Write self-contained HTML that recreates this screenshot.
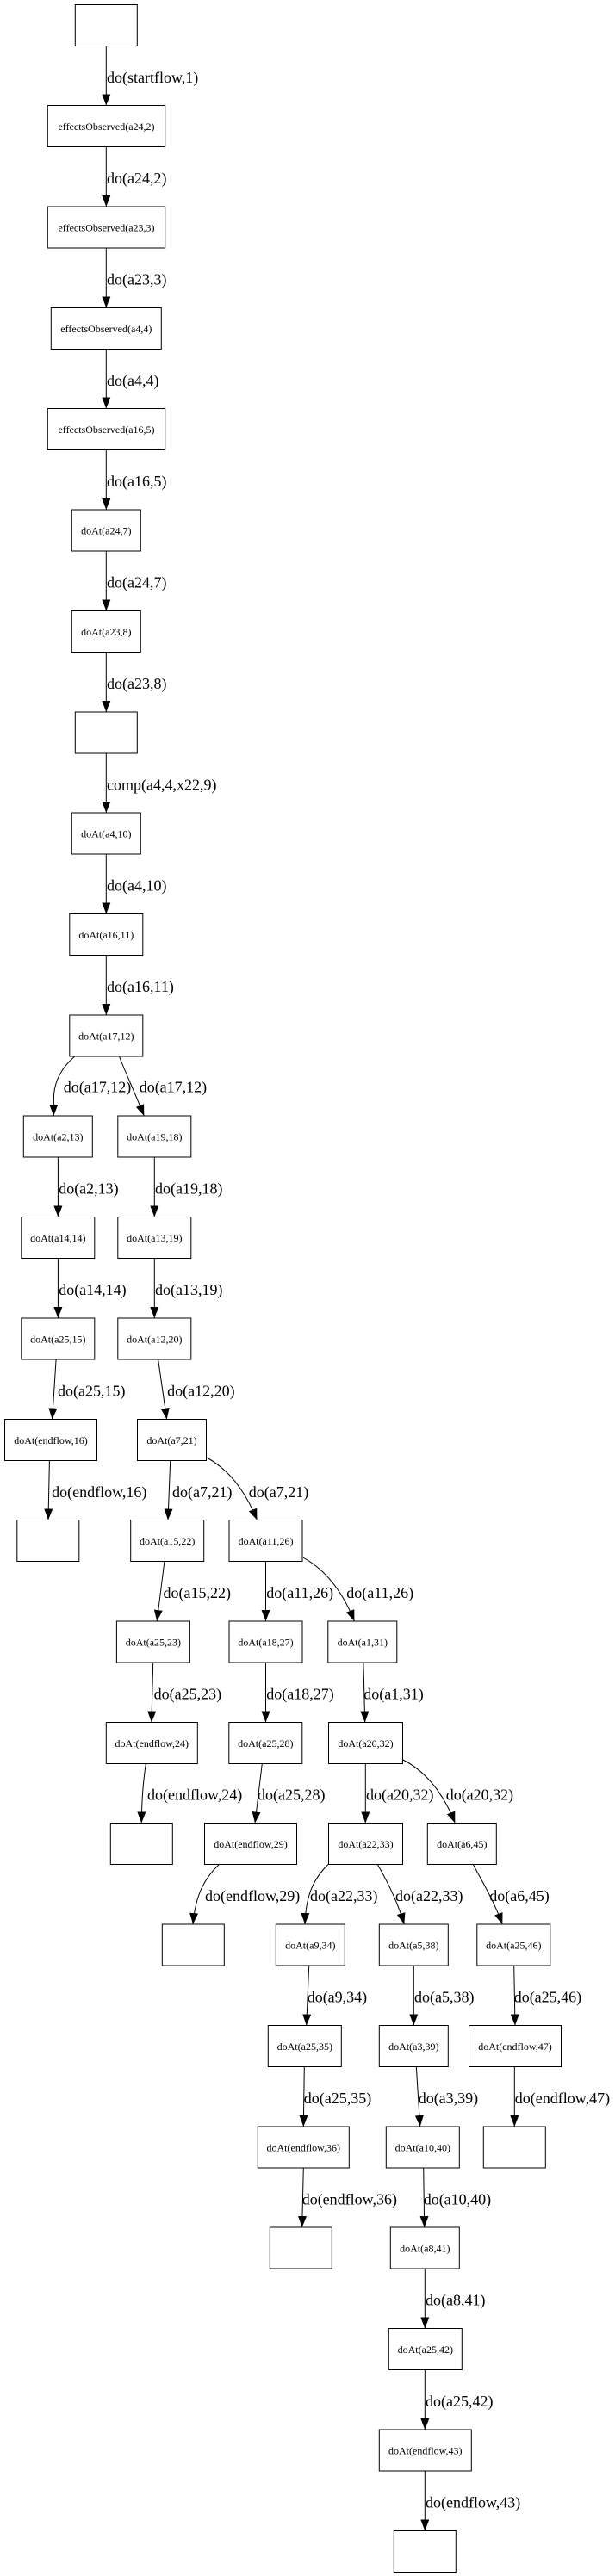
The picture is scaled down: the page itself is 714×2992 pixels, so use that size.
<!DOCTYPE html>
<html><head><meta charset="utf-8"><style>
html,body{margin:0;padding:0;background:#fff;}
svg{display:block;}
.n{fill:#fff;stroke:#000;stroke-width:1;}
.e{fill:none;stroke:#000;stroke-width:1;}
.t{font-family:"Liberation Serif","DejaVu Serif",serif;font-size:12px;text-anchor:middle;fill:#000;}
.l{font-family:"Liberation Serif","DejaVu Serif",serif;font-size:18px;fill:#000;}
</style></head><body>
<svg xmlns="http://www.w3.org/2000/svg" width="714" height="2992" viewBox="0 0 714 2992">
<defs><marker id="ah" markerUnits="userSpaceOnUse" viewBox="0 0 13 10" markerWidth="13" markerHeight="10" refX="13" refY="5" orient="auto"><path d="M0,0L13,5L0,10z" fill="#000"/></marker></defs>
<rect width="714" height="2992" fill="#fff"/>
<!-- nodes -->
<g>
<rect class="n" x="87.3" y="5.5" width="72" height="48"/>
<rect class="n" x="55.3" y="122.5" width="136.4" height="48"/><text class="t" x="123.5" y="151">effectsObserved(a24,2)</text>
<rect class="n" x="55.3" y="240" width="136.4" height="48"/><text class="t" x="123.5" y="268.5">effectsObserved(a23,3)</text>
<rect class="n" x="59.3" y="357.5" width="128" height="48"/><text class="t" x="123.3" y="386">effectsObserved(a4,4)</text>
<rect class="n" x="55.3" y="474.5" width="136.4" height="48"/><text class="t" x="123.5" y="503">effectsObserved(a16,5)</text>
<rect class="n" x="83.3" y="592" width="80" height="48"/><text class="t" x="123.3" y="620.5">doAt(a24,7)</text>
<rect class="n" x="83.3" y="709.5" width="80" height="48"/><text class="t" x="123.3" y="738">doAt(a23,8)</text>
<rect class="n" x="87.3" y="827" width="72" height="48"/>
<rect class="n" x="83.3" y="944" width="80" height="48"/><text class="t" x="123.3" y="972.5">doAt(a4,10)</text>
<rect class="n" x="80.8" y="1061.5" width="85" height="48"/><text class="t" x="123.3" y="1090">doAt(a16,11)</text>
<rect class="n" x="80.8" y="1179" width="85" height="48"/><text class="t" x="123.3" y="1207.5">doAt(a17,12)</text>

<rect class="n" x="27.3" y="1296" width="80" height="48"/><text class="t" x="67.3" y="1324.5">doAt(a2,13)</text>
<rect class="n" x="136.8" y="1296" width="85" height="48"/><text class="t" x="179.3" y="1324.5">doAt(a19,18)</text>

<rect class="n" x="24.8" y="1413.5" width="85" height="48"/><text class="t" x="67.3" y="1442">doAt(a14,14)</text>
<rect class="n" x="136.8" y="1413.5" width="85" height="48"/><text class="t" x="179.3" y="1442">doAt(a13,19)</text>

<rect class="n" x="24.8" y="1531" width="85" height="48"/><text class="t" x="67.3" y="1559.5">doAt(a25,15)</text>
<rect class="n" x="136.8" y="1531" width="85" height="48"/><text class="t" x="179.3" y="1559.5">doAt(a12,20)</text>

<rect class="n" x="5.5" y="1648.5" width="107" height="48"/><text class="t" x="59" y="1677">doAt(endflow,16)</text>
<rect class="n" x="159.5" y="1648.5" width="80" height="48"/><text class="t" x="199.5" y="1677">doAt(a7,21)</text>

<rect class="n" x="19.8" y="1765.5" width="72" height="48"/>
<rect class="n" x="151.7" y="1765.5" width="85" height="48"/><text class="t" x="194.2" y="1794">doAt(a15,22)</text>
<rect class="n" x="266" y="1765.5" width="85" height="48"/><text class="t" x="308.5" y="1794">doAt(a11,26)</text>

<rect class="n" x="135.4" y="1883" width="85" height="48"/><text class="t" x="177.9" y="1911.5">doAt(a25,23)</text>
<rect class="n" x="266" y="1883" width="85" height="48"/><text class="t" x="308.5" y="1911.5">doAt(a18,27)</text>
<rect class="n" x="380.8" y="1883" width="80" height="48"/><text class="t" x="420.8" y="1911.5">doAt(a1,31)</text>

<rect class="n" x="123.3" y="2000.5" width="106" height="48"/><text class="t" x="176.3" y="2029">doAt(endflow,24)</text>
<rect class="n" x="265.8" y="2000.5" width="85" height="48"/><text class="t" x="308.3" y="2029">doAt(a25,28)</text>
<rect class="n" x="381.5" y="2000.5" width="86" height="48"/><text class="t" x="424.5" y="2029">doAt(a20,32)</text>

<rect class="n" x="128.3" y="2117.5" width="72" height="48"/>
<rect class="n" x="237.5" y="2117.5" width="107" height="48"/><text class="t" x="291" y="2146">doAt(endflow,29)</text>
<rect class="n" x="381.5" y="2117.5" width="86" height="48"/><text class="t" x="424.5" y="2146">doAt(a22,33)</text>
<rect class="n" x="496.3" y="2117.5" width="80" height="48"/><text class="t" x="536.3" y="2146">doAt(a6,45)</text>

<rect class="n" x="188.3" y="2235" width="72" height="48"/>
<rect class="n" x="320.3" y="2235" width="80" height="48"/><text class="t" x="360.3" y="2263.5">doAt(a9,34)</text>
<rect class="n" x="440.3" y="2235" width="80" height="48"/><text class="t" x="480.3" y="2263.5">doAt(a5,38)</text>
<rect class="n" x="553.8" y="2235" width="85" height="48"/><text class="t" x="596.3" y="2263.5">doAt(a25,46)</text>

<rect class="n" x="311.3" y="2352.5" width="85" height="48"/><text class="t" x="353.8" y="2381">doAt(a25,35)</text>
<rect class="n" x="440.3" y="2352.5" width="80" height="48"/><text class="t" x="480.3" y="2381">doAt(a3,39)</text>
<rect class="n" x="544.5" y="2352.5" width="107" height="48"/><text class="t" x="598" y="2381">doAt(endflow,47)</text>

<rect class="n" x="299.3" y="2470" width="106" height="48"/><text class="t" x="352.3" y="2498.5">doAt(endflow,36)</text>
<rect class="n" x="448.3" y="2470" width="85" height="48"/><text class="t" x="490.8" y="2498.5">doAt(a10,40)</text>
<rect class="n" x="561.3" y="2470" width="72" height="48"/>

<rect class="n" x="313.3" y="2587" width="72" height="48"/>
<rect class="n" x="453.3" y="2587" width="80" height="48"/><text class="t" x="493.3" y="2615.5">doAt(a8,41)</text>

<rect class="n" x="451.3" y="2704.5" width="85" height="48"/><text class="t" x="493.8" y="2733">doAt(a25,42)</text>
<rect class="n" x="440.3" y="2822" width="107" height="48"/><text class="t" x="493.8" y="2850.5">doAt(endflow,43)</text>
<rect class="n" x="457.3" y="2939.5" width="72" height="48"/>
</g>
<!-- edges -->
<g marker-end="url(#ah)">
<path class="e" marker-end="url(#ah)" d="M123.3,53.5L123.3,122.5"/>
<path class="e" marker-end="url(#ah)" d="M123.3,170.5L123.3,240"/>
<path class="e" marker-end="url(#ah)" d="M123.3,288L123.3,357.5"/>
<path class="e" marker-end="url(#ah)" d="M123.3,405.5L123.3,474.5"/>
<path class="e" marker-end="url(#ah)" d="M123.3,522.5L123.3,592"/>
<path class="e" marker-end="url(#ah)" d="M123.3,640L123.3,709.5"/>
<path class="e" marker-end="url(#ah)" d="M123.3,757.5L123.3,827"/>
<path class="e" marker-end="url(#ah)" d="M123.3,875L123.3,944"/>
<path class="e" marker-end="url(#ah)" d="M123.3,992L123.3,1061.5"/>
<path class="e" marker-end="url(#ah)" d="M123.3,1109.5L123.3,1179"/>

<path class="e" marker-end="url(#ah)" d="M86.3,1227.5C74,1238 64,1252 62.5,1272C62.3,1282 62.3,1290 62.3,1296"/>
<path class="e" marker-end="url(#ah)" d="M138.6,1227.5C145,1244 156,1268 167.3,1296"/>

<path class="e" marker-end="url(#ah)" d="M67.4,1344L67.4,1413.5"/>
<path class="e" marker-end="url(#ah)" d="M179.3,1344L179.3,1413.5"/>
<path class="e" marker-end="url(#ah)" d="M67.4,1461.5L67.4,1531"/>
<path class="e" marker-end="url(#ah)" d="M179.3,1461.5L179.3,1531"/>

<path class="e" marker-end="url(#ah)" d="M65.1,1579L60.6,1648.5"/>
<path class="e" marker-end="url(#ah)" d="M183.6,1579L193.6,1648.5"/>

<path class="e" marker-end="url(#ah)" d="M57.4,1696.5L56,1765.5"/>
<path class="e" marker-end="url(#ah)" d="M197.7,1696.5L195,1765.5"/>
<path class="e" marker-end="url(#ah)" d="M240.1,1693C262,1705 283,1727 298.4,1765.5"/>

<path class="e" marker-end="url(#ah)" d="M190.9,1813.5L182.2,1883"/>
<path class="e" marker-end="url(#ah)" d="M308.5,1813.5L308.5,1883"/>
<path class="e" marker-end="url(#ah)" d="M352.2,1809.3C374,1821 396,1844 411.4,1883"/>

<path class="e" marker-end="url(#ah)" d="M177.7,1931L175.9,2000.5"/>
<path class="e" marker-end="url(#ah)" d="M308.5,1931L308.5,2000.5"/>
<path class="e" marker-end="url(#ah)" d="M421.9,1931L423.7,2000.5"/>

<path class="e" marker-end="url(#ah)" d="M169.3,2048.5C167,2065 164.5,2085 164.3,2117.5"/>
<path class="e" marker-end="url(#ah)" d="M304.3,2048.5L296,2117.5"/>
<path class="e" marker-end="url(#ah)" d="M424.3,2048.5L424.3,2117.5"/>
<path class="e" marker-end="url(#ah)" d="M467.7,2044C490,2055 513,2078 528.3,2117.5"/>

<path class="e" marker-end="url(#ah)" d="M254.3,2165.5C238,2181 227,2200 224,2235"/>
<path class="e" marker-end="url(#ah)" d="M381,2165.5C365,2181 355,2200 354,2235"/>
<path class="e" marker-end="url(#ah)" d="M438.3,2165.5C449,2184 461,2207 469.3,2235"/>
<path class="e" marker-end="url(#ah)" d="M549.3,2165.5C559,2184 573,2207 583.3,2235"/>

<path class="e" marker-end="url(#ah)" d="M358.7,2283L355.7,2352.5"/>
<path class="e" marker-end="url(#ah)" d="M480.3,2283L480.3,2352.5"/>
<path class="e" marker-end="url(#ah)" d="M596.7,2283L598,2352.5"/>

<path class="e" marker-end="url(#ah)" d="M353.3,2400.5L352.3,2470"/>
<path class="e" marker-end="url(#ah)" d="M483.3,2400.5L487.7,2470"/>
<path class="e" marker-end="url(#ah)" d="M597.3,2400.5L597.3,2470"/>

<path class="e" marker-end="url(#ah)" d="M352.3,2518L350.7,2587"/>
<path class="e" marker-end="url(#ah)" d="M491.7,2518L492.7,2587"/>

<path class="e" marker-end="url(#ah)" d="M493.3,2635L493.3,2704.5"/>
<path class="e" marker-end="url(#ah)" d="M493.3,2752.5L493.3,2822"/>
<path class="e" marker-end="url(#ah)" d="M493.3,2870L493.3,2939.5"/>
</g>
<!-- edge labels -->
<g>
<text class="l" x="124" y="96">do(startflow,1)</text>
<text class="l" x="124" y="213">do(a24,2)</text>
<text class="l" x="124" y="330.5">do(a23,3)</text>
<text class="l" x="124" y="448">do(a4,4)</text>
<text class="l" x="124" y="565">do(a16,5)</text>
<text class="l" x="124" y="682.5">do(a24,7)</text>
<text class="l" x="124" y="800">do(a23,8)</text>
<text class="l" x="124" y="917.5">comp(a4,4,x22,9)</text>
<text class="l" x="124" y="1034.5">do(a4,10)</text>
<text class="l" x="124" y="1152">do(a16,11)</text>

<text class="l" x="73.8" y="1268.5">do(a17,12)</text>
<text class="l" x="161.7" y="1268.5">do(a17,12)</text>

<text class="l" x="68.2" y="1386.5">do(a2,13)</text>
<text class="l" x="180" y="1386.5">do(a19,18)</text>
<text class="l" x="68.2" y="1504">do(a14,14)</text>
<text class="l" x="180" y="1504">do(a13,19)</text>
<text class="l" x="67" y="1621.5">do(a25,15)</text>
<text class="l" x="194.1" y="1621.5">do(a12,20)</text>
<text class="l" x="60.1" y="1739">do(endflow,16)</text>
<text class="l" x="200" y="1739">do(a7,21)</text>
<text class="l" x="288.8" y="1739">do(a7,21)</text>
<text class="l" x="189.5" y="1856">do(a15,22)</text>
<text class="l" x="309.3" y="1856">do(a11,26)</text>
<text class="l" x="402.3" y="1856">do(a11,26)</text>
<text class="l" x="178.6" y="1973.5">do(a25,23)</text>
<text class="l" x="309.3" y="1973.5">do(a18,27)</text>
<text class="l" x="422.3" y="1973.5">do(a1,31)</text>
<text class="l" x="171" y="2090.5">do(endflow,24)</text>
<text class="l" x="299" y="2090.5">do(a25,28)</text>
<text class="l" x="425" y="2090.5">do(a20,32)</text>
<text class="l" x="517.7" y="2090.5">do(a20,32)</text>
<text class="l" x="238" y="2208">do(endflow,29)</text>
<text class="l" x="360" y="2208">do(a22,33)</text>
<text class="l" x="459" y="2208">do(a22,33)</text>
<text class="l" x="568.3" y="2208">do(a6,45)</text>
<text class="l" x="356.7" y="2325.5">do(a9,34)</text>
<text class="l" x="481" y="2325.5">do(a5,38)</text>
<text class="l" x="596.7" y="2325.5">do(a25,46)</text>
<text class="l" x="352.8" y="2443">do(a25,35)</text>
<text class="l" x="485.7" y="2443">do(a3,39)</text>
<text class="l" x="597.8" y="2443">do(endflow,47)</text>
<text class="l" x="350.7" y="2560.5">do(endflow,36)</text>
<text class="l" x="491.7" y="2560.5">do(a10,40)</text>
<text class="l" x="494" y="2677.5">do(a8,41)</text>
<text class="l" x="494" y="2795">do(a25,42)</text>
<text class="l" x="494" y="2912.5">do(endflow,43)</text>
</g>
</svg>
</body></html>
